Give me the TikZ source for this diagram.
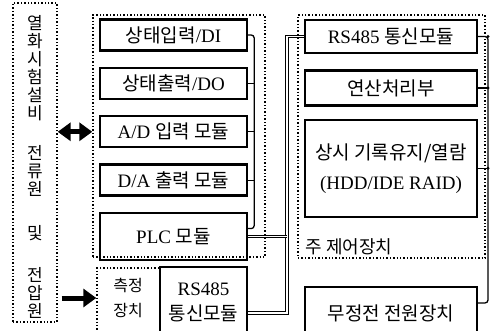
\documentclass[tikz,border=0pt]{standalone}
\usepackage{fontspec}
\setmainfont{Liberation Serif}
\newfontfamily\kr{Noto Sans CJK KR}
\usetikzlibrary{positioning,arrows.meta}

\tikzset{
    modbox/.style={draw, line width=2.4pt, minimum width=147pt, minimum height=31pt, inner sep=2pt, align=center, font=\fontsize{19}{22}\selectfont},
    grpbox/.style={draw, dotted, line width=1.4pt},
    bus/.style={line width=1.3pt, rounded corners=3pt},
    trunk/.style={double, line width=1.1pt, double distance=1.6pt},
    bigtip/.tip={Triangle[length=13pt,width=18pt]},
    bigarrow/.style={line width=5pt, -bigtip},
}

\begin{document}
\begin{tikzpicture}[x=1pt, y=-1pt]
    \useasboundingbox (0,0) rectangle (498,331);

    % Sources
    \node [grpbox, minimum width=44pt, minimum height=319pt] (src) at (35,162.5) {};
    \node [align=center, font=\kr\fontsize{17}{18}\selectfont] (srctext) at (35,167) {열\\화\\시\\험\\설\\비\\[22pt]전\\류\\원\\[26pt]및\\[24pt]전\\압\\원};

    % PLC group
    \node [grpbox, minimum width=172pt, minimum height=242pt] (plcgrp) at (179,136) {};
    \node [modbox] (din) at (173.5,35) {{\kr 상태입력}/DI};
    \node [modbox, below=15pt of din] (dout) {{\kr 상태출력}/DO};
    \node [modbox, below=15pt of dout] (adin) {A/D {\kr 입력 모듈}};
    \node [modbox, below=15pt of adin] (daout) {D/A {\kr 출력 모듈}};
    \node [modbox, below=15pt of daout, minimum height=47pt] (plc) {PLC {\kr 모듈}};

    % Bus in the PLC group
    \draw[bus] (din.east) -- ++(6,0) |- ([yshift=8pt]plc.east);
    \foreach \m in {dout,adin,daout}
        \draw[bus] (\m.east) -- ++(6,0);

    % Measuring device
    \node [grpbox, minimum width=63pt, minimum height=72pt] (meas) at (128.5,304) {};
    \node [align=center, font=\kr\fontsize{16}{25}\selectfont] (meastext) at (128,298) {측정\\장치};
    \node [modbox, minimum width=87pt, minimum height=70pt] (mrs) at (203.5,302) {RS485\\[3pt]{\kr 통신모듈}};

    % Main controller
    \node [grpbox, minimum width=187pt, minimum height=243pt] (ctrl) at (391.5,136.5) {};
    \node [anchor=west, font=\kr\fontsize{18}{20}\selectfont] (ctrllabel) at (302,247) {주 제어장치};
    \node [modbox, minimum width=172pt, minimum height=33pt] (crs) at (391,36.5) {RS485 {\kr 통신모듈}};
    \node [modbox, minimum width=172pt, minimum height=35pt, below=15pt of crs] (calc) {\kr 연산처리부};
    \node [modbox, minimum width=172pt, minimum height=97pt, below=12pt of calc] (store) {{\kr 상시 기록유지/열람}\\[8pt](HDD/IDE RAID)};

    % UPS
    \node [modbox, minimum width=172pt, minimum height=52pt] (ups) at (391,313) {\kr 무정전 전원장치};

    % Arrows from the sources
    \draw[bigarrow, bigtip-bigtip] (src.east |- adin) -- (plcgrp.west |- adin);
    \draw[bigarrow, shorten <=4pt] (src.east |- meastext) -- (meas.west |- meastext);

    % Double line to the controller
    \coordinate (trunktop) at (287,36.5);
    \draw[trunk] (crs.west) -- (trunktop) |- ([yshift=-11pt]mrs.east);
    \draw[trunk] (plc.east) -- (plc.east -| trunktop);

    % Bus on the right
    \coordinate (rbus) at (488,36.5);
    \draw[bus] (crs.east) -- (rbus) |- ([yshift=10pt]ups.east);
    \foreach \m in {calc,store}
        \draw[bus] (\m.east) -- (\m.east -| rbus);
    \foreach \m in {crs,calc,store}
        \fill (\m.east -| rbus) circle (1.6pt);

\end{tikzpicture}
\end{document}
